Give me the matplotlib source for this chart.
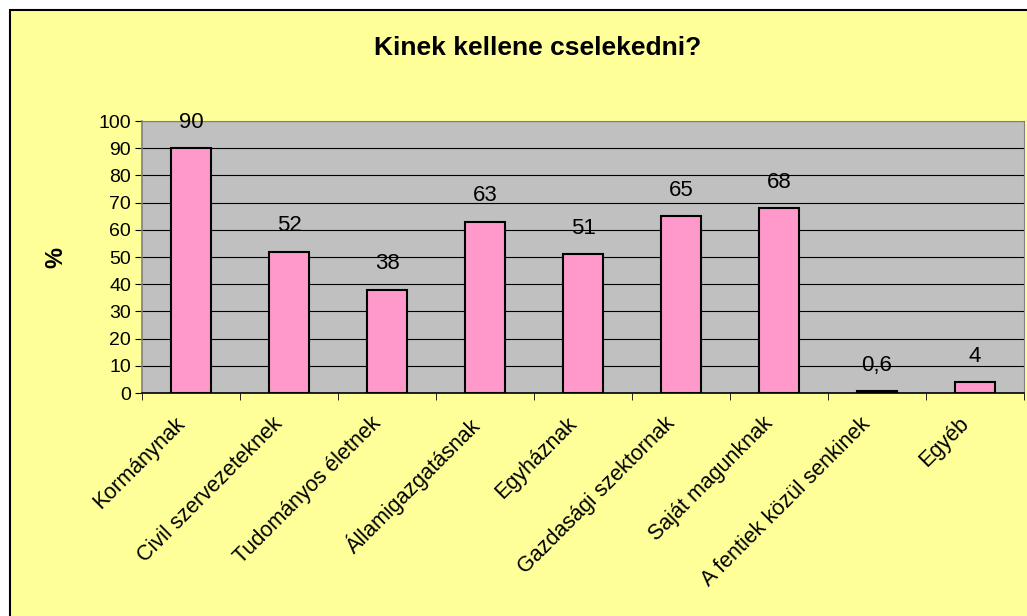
import numpy as np
import matplotlib
matplotlib.use("Agg")
import matplotlib.pyplot as plt
import matplotlib.transforms as mtransforms
from matplotlib.patches import Rectangle

plt.rcParams["font.family"] = ["Liberation Sans", "DejaVu Sans"]

categories = ["Kormánynak", "Civil szervezeteknek", "Tudományos életnek",
              "Államigazgatásnak", "Egyháznak", "Gazdasági szektornak",
              "Saját magunknak", "A fentiek közül senkinek", "Egyéb"]
values = [90, 52, 38, 63, 51, 65, 68, 0.6, 4]
value_labels = ["90", "52", "38", "63", "51", "65", "68", "0,6", "4"]

fig = plt.figure(figsize=(10.27, 6.16), dpi=100)
fig.patch.set_facecolor("white")
# yellow chart area with black frame
frame = Rectangle((10 / 1027, -0.01), 1.02, 1 - 10 / 616 + 0.01,
                  transform=fig.transFigure, facecolor="#FFFF99",
                  edgecolor="black", linewidth=1.5, zorder=-10)
fig.patches.append(frame)

ax = fig.add_axes([142 / 1027, 1 - 393 / 616, (1024 - 142) / 1027, (393 - 121) / 616])
ax.set_facecolor("#C0C0C0")

x = np.arange(len(categories))
ax.bar(x, values, width=0.41, color="#FF99CC", edgecolor="black", linewidth=1.5, zorder=3)

for xi, v, lab in zip(x, values, value_labels):
    ax.annotate(lab, (xi, v), xytext=(0, 11), textcoords="offset points",
                ha="center", va="bottom", fontsize=16)

ax.set_xlim(-0.5, len(categories) - 0.5)
ax.set_ylim(0, 100)
ax.set_yticks(np.arange(0, 101, 10))
ax.yaxis.grid(True, color="black", linewidth=0.8, zorder=1)
ax.set_axisbelow(True)
ax.tick_params(axis="y", labelsize=14, length=5, direction="out", pad=3)

ax.set_xticks(x)
ax.set_xticklabels(categories, rotation=45, ha="right", rotation_mode="anchor", fontsize=15.5)
ax.set_xticks(np.arange(-0.5, len(categories), 1), minor=True)
ax.tick_params(axis="x", which="major", length=0, pad=16)
ax.tick_params(axis="x", which="minor", length=5, direction="out")
shift = mtransforms.ScaledTranslation(-17 / 100, 2 / 100, fig.dpi_scale_trans)
for lbl in ax.get_xticklabels():
    lbl.set_transform(lbl.get_transform() + shift)

for side in ["top", "right"]:
    ax.spines[side].set_color("#808080")
ax.spines["left"].set_color("#808080")
ax.spines["bottom"].set_color("black")
ax.spines["left"].set_linewidth(1.2)
ax.spines["bottom"].set_linewidth(1.2)

ax.set_ylabel("%", fontsize=17, fontweight="bold", labelpad=22)
fig.text(538 / 1027, 1 - 48 / 616, "Kinek kellene cselekedni?", ha="center", va="center",
         fontsize=19, fontweight="bold")

fig.savefig("out.png", dpi=100, facecolor=fig.get_facecolor())
